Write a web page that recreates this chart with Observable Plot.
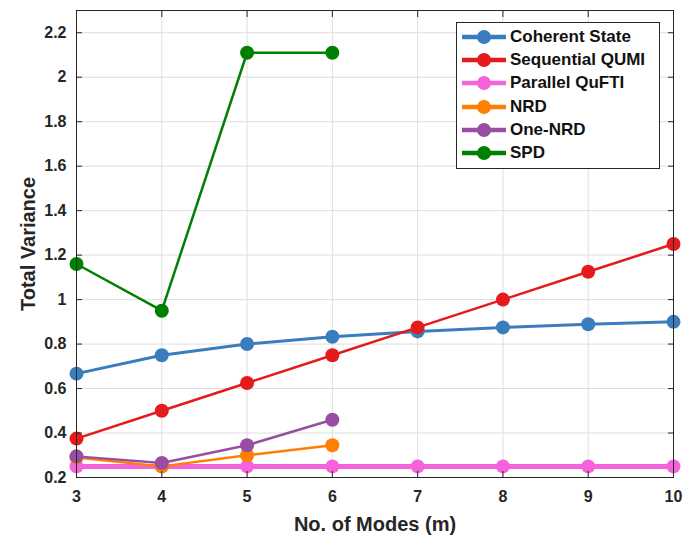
<!DOCTYPE html>
<html><head><meta charset="utf-8">
<script src="https://cdn.jsdelivr.net/npm/d3@7"></script>
<script src="https://cdn.jsdelivr.net/npm/@observablehq/plot@0.6"></script>
<style>
body{margin:0;background:#fff;}
#wrap{position:relative;width:685px;height:537px;font-family:"Liberation Sans",Arial,sans-serif;}
#legend{position:absolute;left:456px;top:22px;width:202px;height:143px;border:1px solid #262626;background:#fff;box-sizing:content-box;padding-top:2px;}
.row{display:flex;align-items:center;height:23.3px;}
.row svg{margin-left:5px;margin-right:4px;}
.row span{font-weight:bold;font-size:17px;color:#111;white-space:nowrap;}
</style></head><body><div id="wrap"></div>
<script>
// ---- data ----
const modes = [3, 4, 5, 6, 7, 8, 9, 10];
const modesShort = [3, 4, 5, 6];
const coherentState = [0.667, 0.75, 0.8, 0.833, 0.857, 0.875, 0.889, 0.9];
const sequentialQUMI = [0.375, 0.5, 0.625, 0.75, 0.875, 1.0, 1.125, 1.25];
const parallelQuFTI = [0.25, 0.25, 0.25, 0.25, 0.25, 0.25, 0.25, 0.25];
const nrd = [0.29, 0.25, 0.30, 0.345];
const oneNrd = [0.295, 0.265, 0.345, 0.46];
const spd = [1.16, 0.95, 2.11, 2.11];
const seriesNames = ["Coherent State", "Sequential QUMI", "Parallel QuFTI", "NRD", "One-NRD", "SPD"];
const xTicks = [3, 4, 5, 6, 7, 8, 9, 10];
const yTicks = [0.2, 0.4, 0.6, 0.8, 1.0, 1.2, 1.4, 1.6, 1.8, 2.0, 2.2];

// ---- styles ----
const seriesColors = ["#3a7dbd", "#e41a1c", "#f462dc", "#ff7f00", "#984ea3", "#008000"];
const seriesWidths = [3, 2.5, 5, 2.5, 2.5, 2.5];

const seriesX = [modes, modes, modes, modesShort, modesShort, modesShort];
const seriesY = [coherentState, sequentialQUMI, parallelQuFTI, nrd, oneNrd, spd];

const marks = [
  Plot.gridX(xTicks, {stroke: "#dedede", strokeOpacity: 1}),
  Plot.gridY(yTicks, {stroke: "#dedede", strokeOpacity: 1}),
];
seriesNames.forEach((name, i) => {
  const rows = seriesX[i].map((m, j) => ({m, v: seriesY[i][j]}));
  marks.push(Plot.line(rows, {x: "m", y: "v", stroke: seriesColors[i], strokeWidth: seriesWidths[i]}));
  marks.push(Plot.dot(rows, {x: "m", y: "v", r: 7, fill: seriesColors[i], stroke: "none"}));
});
const fmt = d => String(+d.toFixed(1));
marks.push(
  Plot.frame({stroke: "#262626", strokeWidth: 1}),
  Plot.axisX(xTicks, {anchor: "bottom", tickSize: -6, tickPadding: 19, fontSize: 16, fontWeight: "bold", color: "#262626", label: "No. of Modes (m)", labelAnchor: "center", labelArrow: "none", labelOffset: 53}),
  Plot.axisX(xTicks, {anchor: "top", tickSize: -6, tickFormat: () => "", label: null, color: "#262626"}),
  Plot.axisY(yTicks, {anchor: "left", tickSize: -6, tickPadding: 16, tickFormat: fmt, fontSize: 16, fontWeight: "bold", color: "#262626", label: "Total Variance", labelAnchor: "center", labelArrow: "none", labelOffset: 56}),
  Plot.axisY(yTicks, {anchor: "right", tickSize: -6, tickFormat: () => "", label: null, color: "#262626"})
);

const chart = Plot.plot({
  width: 685,
  height: 537,
  marginLeft: 76,
  marginRight: 12,
  marginTop: 10,
  marginBottom: 60,
  style: {fontFamily: "'Liberation Sans', Arial, sans-serif", background: "#fff"},
  x: {domain: [3, 10]},
  y: {domain: [0.2, 2.3]},
  marks
});
const wrap = document.getElementById("wrap");
wrap.appendChild(chart);
// axis label styling
chart.querySelectorAll("[aria-label$='axis label'] text, [aria-label$='axis label']").forEach(el => {
  el.setAttribute("font-size", 20); el.setAttribute("font-weight", "bold");
});

// ---- legend ----
const legend = document.createElement("div");
legend.id = "legend";
seriesNames.forEach((name, i) => {
  const row = document.createElement("div");
  row.className = "row";
  row.innerHTML = `<svg width="44" height="16"><line x1="0" x2="44" y1="8" y2="8" stroke="${seriesColors[i]}" stroke-width="4.5"/><circle cx="22" cy="8" r="7" fill="${seriesColors[i]}"/></svg><span>${name}</span>`;
  legend.appendChild(row);
});
wrap.appendChild(legend);
</script>
</body></html>
